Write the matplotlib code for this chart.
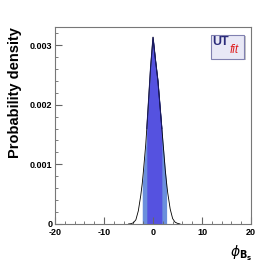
import numpy as np
import matplotlib.pyplot as plt
from matplotlib.patches import Rectangle
from matplotlib.ticker import MultipleLocator

plt.rcParams['font.family'] = ['Liberation Sans', 'DejaVu Sans']
plt.rcParams['axes.unicode_minus'] = False

# posterior density of phi_Bs
phi = [-5.0, -4.5, -4.0, -3.5, -3.0, -2.5, -2.2, -2.0, -1.5, -1.27, -1.0, -0.5, 0.0,
       0.5, 1.0, 1.5, 1.8, 2.0, 2.5, 2.77, 3.0, 3.5, 4.0, 4.5, 5.0, 5.5]
dens = [0.0, 0.000005, 0.00002, 0.00007, 0.00022, 0.00048, 0.00068, 0.00085, 0.00132, 0.00160,
        0.00195, 0.00262, 0.00313, 0.00275, 0.00240, 0.00190, 0.00160, 0.00140, 0.00090, 0.00068,
        0.00052, 0.00025, 0.00009, 0.00003, 0.00001, 0.0]
band68 = (-1.27, 1.8)
band95 = (-2.2, 2.77)

phi = np.array(phi)
dens = np.array(dens)

fig = plt.figure(figsize=(2.79, 2.66), dpi=100)
ax = fig.add_axes([0.197, 0.158, 0.703, 0.74])

m95 = (phi >= band95[0]) & (phi <= band95[1])
m68 = (phi >= band68[0]) & (phi <= band68[1])
ax.fill_between(phi[m95], dens[m95], color='#6b8fdc', lw=0)
ax.fill_between(phi[m68], dens[m68], color='#5552e0', lw=0)
ax.plot(phi, dens, color='black', lw=0.6)
ax.plot(phi[m68], dens[m68], color='#1a1a60', lw=0.8)

ax.set_xlim(-20, 20)
ax.set_ylim(0, 0.0033)
ax.xaxis.set_major_locator(MultipleLocator(10))
ax.xaxis.set_minor_locator(MultipleLocator(2))
ax.yaxis.set_major_locator(MultipleLocator(0.001))
ax.yaxis.set_minor_locator(MultipleLocator(0.0002))
ax.set_yticks([0, 0.001, 0.002, 0.003])
ax.set_yticklabels(['0', '0.001', '0.002', '0.003'])
ax.tick_params(which='both', direction='in', color='#666666', labelsize=6.5, pad=2)
ax.tick_params(axis='x', pad=3)
ax.tick_params(which='major', length=5)
ax.tick_params(which='minor', length=2.5)
for lab in ax.get_xticklabels() + ax.get_yticklabels():
    lab.set_fontweight('bold')
for s in ax.spines.values():
    s.set_color('#777777')
    s.set_linewidth(0.8)

fig.text(0.055, 0.897, 'Probability density', rotation=90, ha='center', va='top',
         fontsize=10.5, fontweight='bold')
fig.text(0.825, 0.012, r'$\phi_{\mathbf{B}_{\mathbf{s}}}$', ha='left', va='bottom', fontsize=10)

# UTfit logo
fig.patches.append(Rectangle((0.762, 0.773), 0.118, 0.09, transform=fig.transFigure,
                             facecolor='#c4c4c4', edgecolor='none'))
fig.patches.append(Rectangle((0.756, 0.780), 0.118, 0.09, transform=fig.transFigure,
                             facecolor='#e8e8f6', edgecolor='#8080b0', lw=0.8))
fig.text(0.761, 0.842, 'UT', fontsize=9, fontweight='bold', color='#2b2b7a', va='center')
fig.text(0.822, 0.812, 'fit', fontsize=8.5, style='italic', color='#e02020', va='center')

fig.savefig('out.png', dpi=100)
